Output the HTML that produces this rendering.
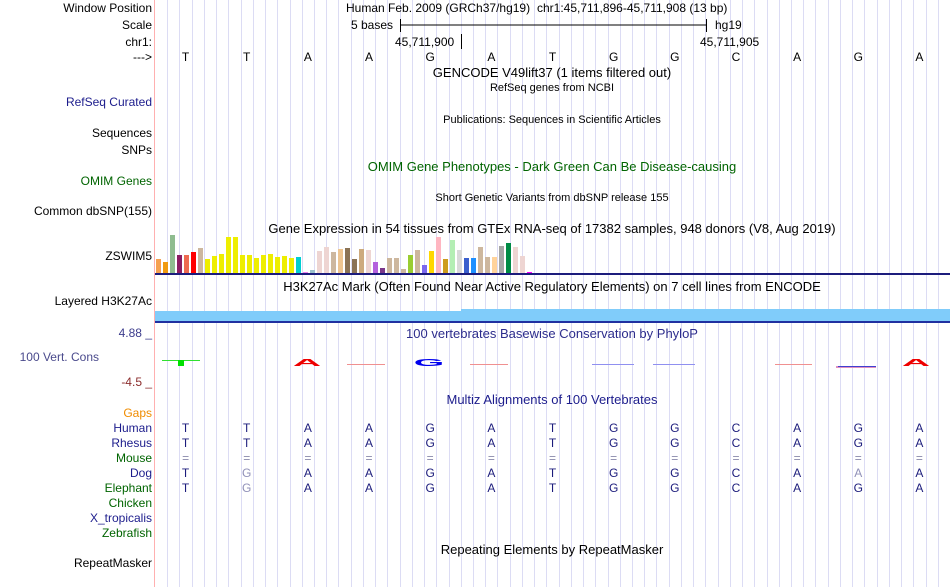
<!DOCTYPE html>
<html><head><meta charset="utf-8">
<style>
html,body{margin:0;padding:0;background:#fff;}
svg{display:block;font-family:"Liberation Sans",sans-serif;}
</style></head>
<body>
<svg id="c" width="950" height="587" viewBox="0 0 950 587">
<g id="grid"></g>
<line x1="154.5" y1="0" x2="154.5" y2="587" stroke="#ffb0b0" stroke-width="1"/>
<g font-size="12" text-anchor="end">
<text x="152" y="12" fill="#000">Window Position</text>
<text x="152" y="29" fill="#000">Scale</text>
<text x="152" y="46" fill="#000">chr1:</text>
<text x="152" y="61" fill="#000">---&gt;</text>
<text x="152" y="106" fill="#1c1c8c">RefSeq Curated</text>
<text x="152" y="137" fill="#000">Sequences</text>
<text x="152" y="154" fill="#000">SNPs</text>
<text x="152" y="185" fill="#006400">OMIM Genes</text>
<text x="152" y="215" fill="#000">Common dbSNP(155)</text>
<text x="152" y="260" fill="#000">ZSWIM5</text>
<text x="152" y="305" fill="#000">Layered H3K27Ac</text>
<text x="152" y="337" fill="#3c3c8c">4.88 _</text>
<text x="99" y="361" fill="#4a4a8c">100 Vert. Cons</text>
<text x="152" y="386" fill="#8b2c2c">-4.5 _</text>
<text x="152" y="417" fill="#f08c00">Gaps</text>
<text x="152" y="432" fill="#1c1c8c">Human</text>
<text x="152" y="447" fill="#1c1c8c">Rhesus</text>
<text x="152" y="462" fill="#006400">Mouse</text>
<text x="152" y="477" fill="#1c1c8c">Dog</text>
<text x="152" y="492" fill="#006400">Elephant</text>
<text x="152" y="507" fill="#006400">Chicken</text>
<text x="152" y="522" fill="#1c1c8c">X_tropicalis</text>
<text x="152" y="537" fill="#006400">Zebrafish</text>
<text x="152" y="567" fill="#000">RepeatMasker</text>
</g>
<g font-size="12" fill="#000">
<text x="346" y="12">Human Feb. 2009 (GRCh37/hg19)</text>
<text x="537" y="12">chr1:45,711,896-45,711,908 (13 bp)</text>
<text x="351" y="29">5 bases</text>
<line x1="400" y1="25" x2="706" y2="25" stroke="#000"/>
<line x1="400.5" y1="19" x2="400.5" y2="32" stroke="#000"/>
<line x1="706.5" y1="19" x2="706.5" y2="32" stroke="#000"/>
<text x="715" y="29">hg19</text>
<text x="395" y="46">45,711,900</text>
<line x1="461.5" y1="34" x2="461.5" y2="49" stroke="#000"/>
<text x="700" y="46">45,711,905</text>
</g>
<g id="bases" font-size="12" text-anchor="middle"></g>
<g font-size="13" text-anchor="middle">
<text x="552" y="77" fill="#000">GENCODE V49lift37 (1 items filtered out)</text>
<text x="552" y="91" font-size="11" fill="#000">RefSeq genes from NCBI</text>
<text x="552" y="123" font-size="11" fill="#000">Publications: Sequences in Scientific Articles</text>
<text x="552" y="171" fill="#006400">OMIM Gene Phenotypes - Dark Green Can Be Disease-causing</text>
<text x="552" y="201" font-size="11" fill="#000">Short Genetic Variants from dbSNP release 155</text>
<text x="552" y="233" fill="#000">Gene Expression in 54 tissues from GTEx RNA-seq of 17382 samples, 948 donors (V8, Aug 2019)</text>
<text x="552" y="291" fill="#000">H3K27Ac Mark (Often Found Near Active Regulatory Elements) on 7 cell lines from ENCODE</text>
<text x="552" y="338" fill="#2c2c8c">100 vertebrates Basewise Conservation by PhyloP</text>
<text x="552" y="404" fill="#1c1c8c">Multiz Alignments of 100 Vertebrates</text>
<text x="552" y="554" fill="#000">Repeating Elements by RepeatMasker</text>
</g>
<g id="gtex"></g>
<rect x="155" y="273" width="795" height="2" fill="#1c1c7c"/>
<rect x="155" y="311" width="306" height="10" fill="#80ccfa"/>
<rect x="461" y="309" width="489" height="12" fill="#80ccfa"/>
<rect x="155" y="321" width="795" height="2" fill="#2030a0"/>
<g>
<line x1="162" y1="360.5" x2="200" y2="360.5" stroke="#30e030" stroke-width="1"/>
<rect x="178" y="360" width="6" height="6" fill="#00e000"/>
<text x="307" y="366" font-size="14" font-weight="bold" fill="#ee0000" text-anchor="middle" transform="translate(307 366) scale(2.8 0.75) translate(-307 -366)">A</text>
<line x1="347" y1="364.5" x2="385" y2="364.5" stroke="#f09090"/>
<text x="429" y="366" font-size="14" font-weight="bold" fill="#0000ee" text-anchor="middle" transform="translate(429 366) scale(2.8 0.75) translate(-429 -366)">G</text>
<line x1="470" y1="364.5" x2="508" y2="364.5" stroke="#f09090"/>
<line x1="592" y1="364.5" x2="634" y2="364.5" stroke="#9090f0"/>
<line x1="653" y1="364.5" x2="695" y2="364.5" stroke="#9090f0"/>
<line x1="775" y1="364.5" x2="812" y2="364.5" stroke="#f09090"/>
<rect x="836" y="366" width="40" height="2" fill="#e090c0"/>
<line x1="838" y1="366.5" x2="876" y2="366.5" stroke="#4040d0"/>
<text x="916" y="366" font-size="14" font-weight="bold" fill="#ee0000" text-anchor="middle" transform="translate(916 366) scale(2.8 0.75) translate(-916 -366)">A</text>
</g>
<g id="align" font-size="12" text-anchor="middle"></g>
<script>
const seq = ["T","T","A","A","G","A","T","G","G","C","A","G","A"];
const rhesus = seq;
const mouse = ["=","=","=","=","=","=","=","=","=","=","=","=","="];
const dog = ["T","G","A","A","G","A","T","G","G","C","A","A","A"];
const dogDiff = [0,1,0,0,0,0,0,0,0,0,0,1,0];
const elephant = ["T","G","A","A","G","A","T","G","G","C","A","G","A"];
const elephantDiff = [0,1,0,0,0,0,0,0,0,0,0,0,0];
const gtexValues = [14,11,38,18,18,21,25,14,17,19,36,36,18,18,15,18,19,16,17,15,16,1,3,22,26,21,24,25,14,24,23,11,5,15,15,4,18,23,8,22,36,14,33,23,15,15,26,16,16,27,30,26,17,1];
const gtexColors = ["#f5a050","#f09a10","#8fbc8f","#8b1c62","#ee6a50","#ff0000","#cdb79e","#eeee00","#eeee00","#eeee00","#eeee00","#eeee00","#eeee00","#eeee00","#eeee00","#eeee00","#eeee00","#eeee00","#eeee00","#eeee00","#00ced1","#ee82ee","#9ac0cd","#eed5d2","#eed5d2","#cdb79e","#eec591","#8b7355","#8b7355","#cdaa7d","#eed5d2","#b460dd","#7a378b","#cdb79e","#cdb79e","#cdb79e","#9acd32","#cdb79e","#7b68ee","#ffd700","#ffb6c1","#cd9b1d","#b4eeb4","#d9d9d9","#3a5fcd","#1e90ff","#cdb79e","#cdb79e","#ffd39b","#a6a6a6","#008b45","#eed5d2","#eed5d2","#ff00ff"];
const NS="http://www.w3.org/2000/svg";
const x0=155, baseW=795/13;
function baseX(i){return x0+baseW*(i+0.5);}
function gtexX(i){return 156+i*7;}
function gtexY(v){return 273-v;}
const grid=document.getElementById('grid');
for(let k=1;k<66;k++){
  const l=document.createElementNS(NS,'line');
  const x=Math.round(x0+k*baseW/5)+0.5;
  l.setAttribute('x1',x);l.setAttribute('x2',x);l.setAttribute('y1',0);l.setAttribute('y2',587);
  l.setAttribute('stroke','#dcdcf4');
  
  
  grid.appendChild(l);
}
function addText(g,x,y,t,fill,name){
  const e=document.createElementNS(NS,'text');
  e.setAttribute('x',x);e.setAttribute('y',y);e.setAttribute('fill',fill);e.textContent=t;
  
  
  g.appendChild(e);
}
const bg=document.getElementById('bases');
seq.forEach((b,i)=>addText(bg,baseX(i),61,b,'#000','base-letter'));
const ag=document.getElementById('align');
seq.forEach((b,i)=>{
  addText(ag,baseX(i),432,b,'#1c1c7c','human-base');
  addText(ag,baseX(i),447,rhesus[i],'#1c1c7c','rhesus-base');
  addText(ag,baseX(i),462,mouse[i],'#8888aa','mouse-base');
  addText(ag,baseX(i),477,dog[i],dogDiff[i]?'#9090b8':'#1c1c7c','dog-base');
  addText(ag,baseX(i),492,elephant[i],elephantDiff[i]?'#9090b8':'#1c1c7c','elephant-base');
});
const gg=document.getElementById('gtex');
gtexValues.forEach((v,i)=>{
  const r=document.createElementNS(NS,'rect');
  r.setAttribute('x',gtexX(i));r.setAttribute('y',gtexY(v));
  r.setAttribute('width',5);r.setAttribute('height',v);
  r.setAttribute('fill',gtexColors[i]);
  
  
  gg.appendChild(r);
});
</script>
</svg>
</body></html>
